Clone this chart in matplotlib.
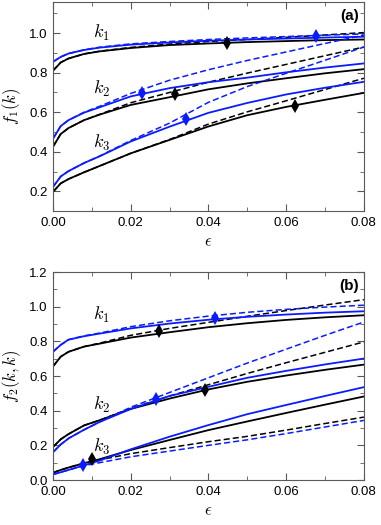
import matplotlib
matplotlib.use('Agg')
import matplotlib.pyplot as plt
from matplotlib.ticker import MultipleLocator

plt.rcParams['font.family'] = ['Liberation Sans', 'DejaVu Sans']
plt.rcParams['mathtext.fontset'] = 'cm'

# epsilon grid shared by all curves
eps = [0, 0.002, 0.004, 0.008, 0.012, 0.02, 0.03, 0.04, 0.05, 0.06, 0.07, 0.08]

# panel (a): f1(k)
a_k1_black = [0.81, 0.852, 0.872, 0.895, 0.908, 0.925, 0.94, 0.948, 0.955, 0.96, 0.965, 0.968]
a_k1_blue = [0.855, 0.88, 0.897, 0.915, 0.927, 0.942, 0.953, 0.962, 0.968, 0.973, 0.978, 0.982]
a_k1_black_dash = [0.81, 0.852, 0.872, 0.895, 0.909, 0.928, 0.945, 0.958, 0.968, 0.979, 0.991, 1.003]
a_k1_blue_dash = [0.855, 0.88, 0.897, 0.916, 0.929, 0.946, 0.958, 0.968, 0.976, 0.983, 0.99, 0.996]

a_k2_black = [0.425, 0.49, 0.52, 0.56, 0.588, 0.637, 0.676, 0.716, 0.746, 0.772, 0.797, 0.818]
a_k2_blue = [0.466, 0.53, 0.56, 0.598, 0.625, 0.68, 0.722, 0.752, 0.775, 0.802, 0.826, 0.847]
a_k2_black_dash = [0.425, 0.49, 0.52, 0.56, 0.589, 0.648, 0.7, 0.752, 0.798, 0.842, 0.886, 0.93]
a_k2_blue_dash = [0.466, 0.53, 0.56, 0.6, 0.63, 0.695, 0.762, 0.815, 0.862, 0.905, 0.948, 0.99]

a_k3_black = [0.197, 0.24, 0.262, 0.296, 0.328, 0.392, 0.46, 0.528, 0.585, 0.627, 0.663, 0.698]
a_k3_blue = [0.222, 0.275, 0.302, 0.343, 0.377, 0.452, 0.527, 0.597, 0.647, 0.69, 0.724, 0.754]
a_k3_black_dash = [0.197, 0.24, 0.262, 0.296, 0.328, 0.392, 0.462, 0.54, 0.602, 0.658, 0.715, 0.772]
a_k3_blue_dash = [0.222, 0.275, 0.302, 0.343, 0.378, 0.457, 0.545, 0.65, 0.73, 0.797, 0.863, 0.93]

a_black_pts = [(0.0447, 0.952), (0.0313, 0.69), (0.0622, 0.634)]
a_blue_pts = [(0.0678, 0.986), (0.0228, 0.697), (0.0343, 0.565)]

# panel (b): f2(k, k)
b_k1_black = [0.655, 0.712, 0.74, 0.77, 0.787, 0.822, 0.853, 0.882, 0.905, 0.924, 0.939, 0.951]
b_k1_blue = [0.74, 0.78, 0.81, 0.83, 0.845, 0.875, 0.903, 0.925, 0.942, 0.955, 0.966, 0.974]
b_k1_black_dash = [0.655, 0.712, 0.74, 0.77, 0.79, 0.835, 0.875, 0.91, 0.945, 0.978, 1.01, 1.041]
b_k1_blue_dash = [0.74, 0.78, 0.81, 0.832, 0.848, 0.885, 0.919, 0.946, 0.968, 0.985, 0.998, 1.009]

b_k2_black = [0.19, 0.235, 0.265, 0.315, 0.345, 0.41, 0.47, 0.523, 0.567, 0.603, 0.636, 0.666]
b_k2_blue = [0.16, 0.205, 0.24, 0.29, 0.335, 0.41, 0.485, 0.538, 0.59, 0.63, 0.667, 0.701]
b_k2_black_dash = [0.19, 0.235, 0.265, 0.315, 0.345, 0.413, 0.485, 0.55, 0.615, 0.677, 0.737, 0.797]
b_k2_blue_dash = [0.16, 0.205, 0.24, 0.29, 0.335, 0.42, 0.505, 0.59, 0.675, 0.755, 0.835, 0.912]

b_k3_black = [0.042, 0.058, 0.072, 0.097, 0.12, 0.173, 0.231, 0.288, 0.338, 0.387, 0.435, 0.482]
b_k3_blue = [0.032, 0.045, 0.058, 0.085, 0.112, 0.177, 0.25, 0.317, 0.38, 0.433, 0.485, 0.536]
b_k3_black_dash = [0.042, 0.058, 0.072, 0.097, 0.116, 0.152, 0.187, 0.221, 0.252, 0.288, 0.326, 0.363]
b_k3_blue_dash = [0.032, 0.045, 0.058, 0.083, 0.1, 0.134, 0.167, 0.2, 0.232, 0.268, 0.306, 0.344]

b_black_pts = [(0.0274, 0.858), (0.039, 0.519), (0.01, 0.119)]
b_blue_pts = [(0.0418, 0.933), (0.0266, 0.467), (0.0077, 0.087)]

BLUE = '#0a1cff'


def draw_panel(ax, curves, black_pts, blue_pts, labels, ylim, ylabel, tag):
    for black, blue, black_dash, blue_dash in curves:
        ax.plot(eps, black, color='black', lw=1.3)
        ax.plot(eps, black_dash, color='black', lw=1.1, ls=(0, (4, 2)))
        ax.plot(eps, blue, color=BLUE, lw=1.3)
        ax.plot(eps, blue_dash, color=BLUE, lw=1.1, ls=(0, (4, 2)))
    for x, y in black_pts:
        ax.plot(x, y, marker='d', color='black', ms=7.5, mew=0)
    for x, y in blue_pts:
        ax.plot(x, y, marker='d', color=BLUE, ms=7.5, mew=0)
    for i, y in enumerate(labels):
        ax.text(0.0102, y, r'$k_%d$' % (i + 1), fontsize=13, ha='left', va='center')

    ax.set_xlim(0, 0.08)
    ax.set_ylim(*ylim)
    ax.xaxis.set_major_locator(MultipleLocator(0.02))
    ax.xaxis.set_minor_locator(MultipleLocator(0.01))
    ax.yaxis.set_major_locator(MultipleLocator(0.2))
    ax.yaxis.set_minor_locator(MultipleLocator(0.1))
    ax.xaxis.set_major_formatter(matplotlib.ticker.FormatStrFormatter('%.2f'))
    ax.yaxis.set_major_formatter(matplotlib.ticker.FormatStrFormatter('%.1f'))
    ax.tick_params(which='both', direction='in', top=True, right=True,
                   color='0.35', labelsize=9.5, pad=4)
    ax.tick_params(which='major', length=5)
    ax.tick_params(which='minor', length=3)
    for s in ax.spines.values():
        s.set_color('0.35')
    ax.set_xlabel(r'$\epsilon$', fontsize=12, labelpad=4)
    ax.set_ylabel(ylabel, fontsize=12, labelpad=4)
    ax.text(0.985, 0.965, tag, transform=ax.transAxes, ha='right', va='top',
            fontsize=11, fontweight='bold')


fig = plt.figure(figsize=(3.81, 5.25), dpi=100)
ax_a = fig.add_axes([0.139, 0.598, 0.816, 0.399])
ax_b = fig.add_axes([0.139, 0.0857, 0.816, 0.396])

draw_panel(ax_a,
           [(a_k1_black, a_k1_blue, a_k1_black_dash, a_k1_blue_dash),
            (a_k2_black, a_k2_blue, a_k2_black_dash, a_k2_blue_dash),
            (a_k3_black, a_k3_blue, a_k3_black_dash, a_k3_blue_dash)],
           a_black_pts, a_blue_pts, [1.0, 0.717, 0.447], (0.1, 1.16),
           r'$f_1(k)$', '(a)')

draw_panel(ax_b,
           [(b_k1_black, b_k1_blue, b_k1_black_dash, b_k1_blue_dash),
            (b_k2_black, b_k2_blue, b_k2_black_dash, b_k2_blue_dash),
            (b_k3_black, b_k3_blue, b_k3_black_dash, b_k3_blue_dash)],
           b_black_pts, b_blue_pts, [0.952, 0.434, 0.192], (0, 1.2),
           r'$f_2(k,k)$', '(b)')

fig.savefig('out.png', dpi=100)
